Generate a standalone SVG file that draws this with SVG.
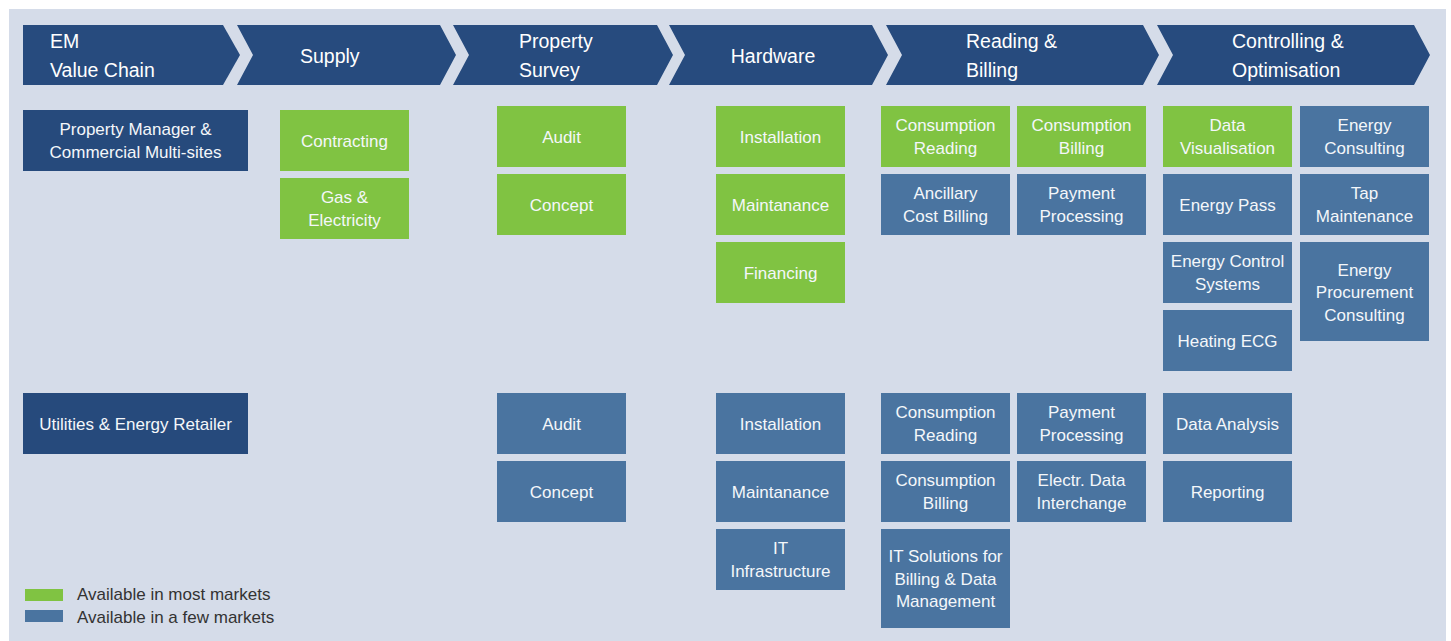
<svg xmlns="http://www.w3.org/2000/svg" width="1451" height="641" viewBox="0 0 1451 641">
<style>
.bg{fill:#D5DCE9}
.chev{fill:#274B7E}
.dk{fill:#264A7C}
.gr{fill:#80C342}
.bl{fill:#4A74A0}
text{font-family:"Liberation Sans",Arial,sans-serif}
.ht{fill:#FFFFFF;font-size:19.5px}
.nt{fill:#F4F7FA;font-size:17px;text-anchor:middle}
.lt{fill:#333333;font-size:17px}
</style>
<rect x="0" y="0" width="1451" height="641" fill="#FFFFFF"/>
<rect class="bg" x="9" y="9" width="1437" height="632"/>
<g id="header">
<path class="chev" d="M23,25 H223 L240,55 L223,85 H23 Z"/>
<path class="chev" d="M237,25 H440 L456,55 L440,85 H237 L253,55 Z"/>
<path class="chev" d="M453,25 H657 L673,55 L657,85 H453 L469,55 Z"/>
<path class="chev" d="M669,25 H872 L888,55 L872,85 H669 L685,55 Z"/>
<path class="chev" d="M886,25 H1143 L1159,55 L1143,85 H886 L902,55 Z"/>
<path class="chev" d="M1157,25 H1414 L1430,55 L1414,85 H1157 L1173,55 Z"/>
<text class="ht" x="50" y="48">EM</text>
<text class="ht" x="50" y="77">Value Chain</text>
<text class="ht" x="300" y="63">Supply</text>
<text class="ht" x="519" y="48">Property</text>
<text class="ht" x="519" y="77">Survey</text>
<text class="ht" x="773" y="63" text-anchor="middle">Hardware</text>
<text class="ht" x="966" y="48">Reading &amp;</text>
<text class="ht" x="966" y="77">Billing</text>
<text class="ht" x="1232" y="48">Controlling &amp;</text>
<text class="ht" x="1232" y="77">Optimisation</text>
</g>
<g id="connectors"/>
<g id="row1">
<g id="pm"><rect class="dk" x="23" y="110" width="225" height="61"/><text class="nt" x="135.5" y="135">Property Manager &amp;</text><text class="nt" x="135.5" y="158">Commercial Multi-sites</text></g>
<g id="r1-contracting"><rect class="gr" x="280" y="110" width="129" height="61"/><text class="nt" x="344.5" y="147">Contracting</text></g>
<g id="r1-gas"><rect class="gr" x="280" y="178" width="129" height="61"/><text class="nt" x="344.5" y="203">Gas &amp;</text><text class="nt" x="344.5" y="226">Electricity</text></g>
<g id="r1-audit"><rect class="gr" x="497" y="106" width="129" height="61"/><text class="nt" x="561.5" y="143">Audit</text></g>
<g id="r1-concept"><rect class="gr" x="497" y="174" width="129" height="61"/><text class="nt" x="561.5" y="211">Concept</text></g>
<g id="r1-install"><rect class="gr" x="716" y="106" width="129" height="61"/><text class="nt" x="780.5" y="143">Installation</text></g>
<g id="r1-maint"><rect class="gr" x="716" y="174" width="129" height="61"/><text class="nt" x="780.5" y="211">Maintanance</text></g>
<g id="r1-fin"><rect class="gr" x="716" y="242" width="129" height="61"/><text class="nt" x="780.5" y="279">Financing</text></g>
<g id="r1-cread"><rect class="gr" x="881" y="106" width="129" height="61"/><text class="nt" x="945.5" y="131">Consumption</text><text class="nt" x="945.5" y="154">Reading</text></g>
<g id="r1-cbill"><rect class="gr" x="1017" y="106" width="129" height="61"/><text class="nt" x="1081.5" y="131">Consumption</text><text class="nt" x="1081.5" y="154">Billing</text></g>
<g id="r1-anc"><rect class="bl" x="881" y="174" width="129" height="61"/><text class="nt" x="945.5" y="199">Ancillary</text><text class="nt" x="945.5" y="222">Cost Billing</text></g>
<g id="r1-pay"><rect class="bl" x="1017" y="174" width="129" height="61"/><text class="nt" x="1081.5" y="199">Payment</text><text class="nt" x="1081.5" y="222">Processing</text></g>
<g id="r1-datavis"><rect class="gr" x="1163" y="106" width="129" height="61"/><text class="nt" x="1227.5" y="131">Data</text><text class="nt" x="1227.5" y="154">Visualisation</text></g>
<g id="r1-econs"><rect class="bl" x="1300" y="106" width="129" height="61"/><text class="nt" x="1364.5" y="131">Energy</text><text class="nt" x="1364.5" y="154">Consulting</text></g>
<g id="r1-epass"><rect class="bl" x="1163" y="174" width="129" height="61"/><text class="nt" x="1227.5" y="211">Energy Pass</text></g>
<g id="r1-tap"><rect class="bl" x="1300" y="174" width="129" height="61"/><text class="nt" x="1364.5" y="199">Tap</text><text class="nt" x="1364.5" y="222">Maintenance</text></g>
<g id="r1-ecs"><rect class="bl" x="1163" y="242" width="129" height="61"/><text class="nt" x="1227.5" y="267">Energy Control</text><text class="nt" x="1227.5" y="290">Systems</text></g>
<g id="r1-proc"><rect class="bl" x="1300" y="242" width="129" height="99"/><text class="nt" x="1364.5" y="275.5">Energy</text><text class="nt" x="1364.5" y="298">Procurement</text><text class="nt" x="1364.5" y="320.5">Consulting</text></g>
<g id="r1-heat"><rect class="bl" x="1163" y="310" width="129" height="61"/><text class="nt" x="1227.5" y="347">Heating ECG</text></g>
</g>
<g id="row2">
<g id="util"><rect class="dk" x="23" y="393" width="225" height="61"/><text class="nt" x="135.5" y="430">Utilities &amp; Energy Retailer</text></g>
<g id="r2-audit"><rect class="bl" x="497" y="393" width="129" height="61"/><text class="nt" x="561.5" y="430">Audit</text></g>
<g id="r2-concept"><rect class="bl" x="497" y="461" width="129" height="61"/><text class="nt" x="561.5" y="498">Concept</text></g>
<g id="r2-install"><rect class="bl" x="716" y="393" width="129" height="61"/><text class="nt" x="780.5" y="430">Installation</text></g>
<g id="r2-maint"><rect class="bl" x="716" y="461" width="129" height="61"/><text class="nt" x="780.5" y="498">Maintanance</text></g>
<g id="r2-it"><rect class="bl" x="716" y="529" width="129" height="61"/><text class="nt" x="780.5" y="554">IT</text><text class="nt" x="780.5" y="577">Infrastructure</text></g>
<g id="r2-cread"><rect class="bl" x="881" y="393" width="129" height="61"/><text class="nt" x="945.5" y="418">Consumption</text><text class="nt" x="945.5" y="441">Reading</text></g>
<g id="r2-cbill"><rect class="bl" x="881" y="461" width="129" height="61"/><text class="nt" x="945.5" y="486">Consumption</text><text class="nt" x="945.5" y="509">Billing</text></g>
<g id="r2-itsol"><rect class="bl" x="881" y="529" width="129" height="99"/><text class="nt" x="945.5" y="562">IT Solutions for</text><text class="nt" x="945.5" y="584.5">Billing &amp; Data</text><text class="nt" x="945.5" y="607">Management</text></g>
<g id="r2-pay"><rect class="bl" x="1017" y="393" width="129" height="61"/><text class="nt" x="1081.5" y="418">Payment</text><text class="nt" x="1081.5" y="441">Processing</text></g>
<g id="r2-edi"><rect class="bl" x="1017" y="461" width="129" height="61"/><text class="nt" x="1081.5" y="486">Electr. Data</text><text class="nt" x="1081.5" y="509">Interchange</text></g>
<g id="r2-analysis"><rect class="bl" x="1163" y="393" width="129" height="61"/><text class="nt" x="1227.5" y="430">Data Analysis</text></g>
<g id="r2-report"><rect class="bl" x="1163" y="461" width="129" height="61"/><text class="nt" x="1227.5" y="498">Reporting</text></g>
</g>
<g id="legend">
<rect class="gr" x="25" y="589" width="38" height="12"/>
<text class="lt" x="77" y="600">Available in most markets</text>
<rect class="bl" x="25" y="610" width="38" height="12"/>
<text class="lt" x="77" y="623">Available in a few markets</text>
</g>
</svg>
